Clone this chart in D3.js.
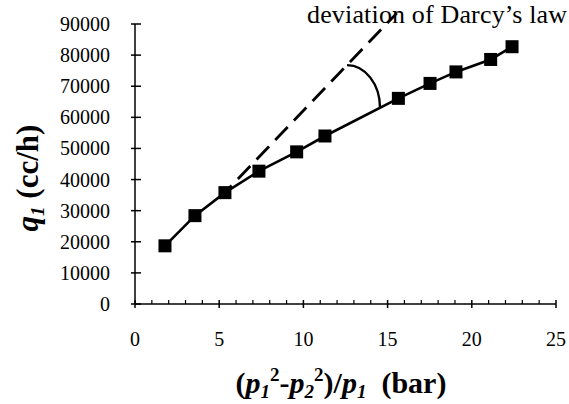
<!DOCTYPE html>
<html>
<head>
<meta charset="utf-8">
<script src="https://cdn.jsdelivr.net/npm/d3@7"></script>
<style>
  body { margin: 0; background: #fff; }
  svg { display: block; font-family: "Liberation Serif", "Times New Roman", serif; }
</style>
</head>
<body>
<svg id="chart" width="569" height="404"></svg>
<script>
// ---- data ----
const xValues = [1.78, 3.56, 5.34, 7.36, 9.6, 11.28, 15.64, 17.52, 19.06, 21.12, 22.39];
const qValues = [18700, 28400, 35800, 42700, 48900, 54000, 66100, 70900, 74600, 78600, 82700];
const darcyX = [5.0, 15.55];
const darcyQ = [33900, 93500];
const xTicks = [0, 5, 10, 15, 20, 25];
const xMinorTicks = d3.range(0, 26, 1);
const yTicks = [0, 10000, 20000, 30000, 40000, 50000, 60000, 70000, 80000, 90000];
const annotation = "deviation of Darcy\u2019s law";
const arcFromX = 12.59, arcToX = 14.55;

// ---- layout ----
const svg = d3.select("#chart");
const x = d3.scaleLinear().domain([0, 25]).range([135, 556]);
const y = d3.scaleLinear().domain([0, 90000]).range([304, 24]);

// axes
const gx = svg.append("g").attr("transform", `translate(0,${y(0)})`);
gx.append("line").attr("x1", x(0)).attr("x2", x(25)).attr("stroke", "#000").attr("stroke-width", 1.5);
gx.selectAll(".minor").data(xMinorTicks.filter(d => d % 5 !== 0)).join("line")
  .attr("x1", d => x(d)).attr("x2", d => x(d)).attr("y1", 0).attr("y2", -4)
  .attr("stroke", "#000").attr("stroke-width", 1.2);
gx.selectAll(".major").data(xTicks).join("line")
  .attr("x1", d => x(d)).attr("x2", d => x(d)).attr("y1", -4).attr("y2", 4)
  .attr("stroke", "#000").attr("stroke-width", 1.5);
gx.selectAll("text").data(xTicks).join("text")
  .attr("x", d => x(d)).attr("y", 42).attr("text-anchor", "middle")
  .attr("font-size", 20).text(d => d);

const gy = svg.append("g").attr("transform", `translate(${x(0)},0)`);
gy.append("line").attr("y1", y(0)).attr("y2", y(90000)).attr("stroke", "#000").attr("stroke-width", 1.5);
gy.selectAll(".tick").data(yTicks).join("line")
  .attr("x1", -4).attr("x2", 6).attr("y1", d => y(d)).attr("y2", d => y(d))
  .attr("stroke", "#000").attr("stroke-width", 1.5);
gy.selectAll("text").data(yTicks).join("text")
  .attr("x", -25).attr("y", d => y(d)).attr("dy", "0.35em").attr("text-anchor", "end")
  .attr("font-size", 20).text(d => d);

// dashed Darcy line
const line = d3.line().x(d => x(d[0])).y(d => y(d[1]));
svg.append("path").datum(d3.zip(darcyX, darcyQ)).attr("d", line)
  .attr("fill", "none").attr("stroke", "#000").attr("stroke-width", 2.8)
  .attr("stroke-dasharray", "18,9");

// data line
const pts = d3.zip(xValues, qValues);
svg.append("path").datum(pts).attr("d", line)
  .attr("fill", "none").attr("stroke", "#000").attr("stroke-width", 2.6);

// markers
const s = 13;
svg.selectAll(".pt").data(pts).join("rect")
  .attr("x", d => x(d[0]) - s / 2).attr("y", d => y(d[1]) - s / 2)
  .attr("width", s).attr("height", s).attr("fill", "#000");

// angle arc
const slopeD = (darcyQ[1] - darcyQ[0]) / (darcyX[1] - darcyX[0]);
const a0 = [x(arcFromX), y(darcyQ[0] + (arcFromX - darcyX[0]) * slopeD)];
const i6 = 5;
const solidQ = qValues[i6] + (arcToX - xValues[i6]) * (qValues[i6 + 1] - qValues[i6]) / (xValues[i6 + 1] - xValues[i6]);
const a1 = [x(arcToX), y(solidQ)];
svg.append("path")
  .attr("d", `M${a0[0]},${a0[1]} A${a1[0] - a0[0]},${a1[1] - a0[1]} 0 0 1 ${a1[0]},${a1[1]}`)
  .attr("fill", "none").attr("stroke", "#000").attr("stroke-width", 2.4);

// annotation
svg.append("text").attr("x", 307).attr("y", 23).attr("font-size", 26)
  .attr("textLength", 260).attr("lengthAdjust", "spacing").text(annotation);

// y label
const yl = svg.append("text").attr("transform", "translate(38,178) rotate(-90)")
  .attr("text-anchor", "middle").attr("font-size", 31).attr("font-weight", "bold");
yl.append("tspan").attr("font-style", "italic").text("q");
yl.append("tspan").attr("font-style", "italic").attr("font-size", 19).attr("dy", 6).text("1");
yl.append("tspan").attr("dy", -6).text(" (cc/h)");

// x label
const xl = svg.append("text").attr("x", 341).attr("y", 393)
  .attr("text-anchor", "middle").attr("font-size", 30).attr("font-weight", "bold");
xl.append("tspan").text("(");
xl.append("tspan").attr("font-style", "italic").text("p");
xl.append("tspan").attr("font-style", "italic").attr("font-size", 19).attr("dy", 5).text("1");
xl.append("tspan").attr("font-size", 19).attr("dy", -17).text("2");
xl.append("tspan").attr("dy", 12).text("-");
xl.append("tspan").attr("font-style", "italic").text("p");
xl.append("tspan").attr("font-style", "italic").attr("font-size", 19).attr("dy", 5).text("2");
xl.append("tspan").attr("font-size", 19).attr("dy", -17).text("2");
xl.append("tspan").attr("dy", 12).text(")/");
xl.append("tspan").attr("font-style", "italic").text("p");
xl.append("tspan").attr("font-style", "italic").attr("font-size", 19).attr("dy", 5).text("1");
xl.append("tspan").attr("dy", -5).text("\u00a0\u00a0(bar)");
</script>
</body>
</html>
